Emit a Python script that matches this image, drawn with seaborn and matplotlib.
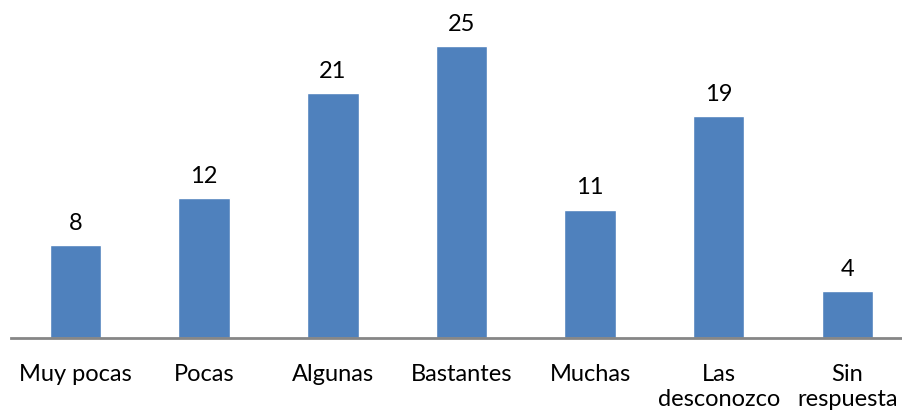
"""Bar chart of response counts, Excel-style."""

import matplotlib.pyplot as plt
import pandas as pd
import seaborn as sns

plt.switch_backend("Agg")

CATEGORIES = [
    "Muy pocas",
    "Pocas",
    "Algunas",
    "Bastantes",
    "Muchas",
    "Las\ndesconozco",
    "Sin\nrespuesta",
]
COUNTS = [8, 12, 21, 25, 11, 19, 4]

BAR_COLOR = "#4F81BD"
AXIS_COLOR = "#868686"

data = pd.DataFrame({"categoria": CATEGORIES, "n": COUNTS})

sns.set_theme(style="white")
plt.rcParams["font.family"] = ["Lato", "DejaVu Sans"]

fig = plt.figure(figsize=(9.02, 4.2), dpi=100)
ax = fig.add_axes([0.0124, 0.195, 0.9984, 0.779])

sns.barplot(data=data, x="categoria", y="n", color=BAR_COLOR,
            saturation=1, width=0.4, ax=ax)

ax.set_ylim(0, 28)
ax.set_xlabel("")
ax.set_ylabel("")
ax.set_yticks([])
for side in ("top", "left", "right"):
    ax.spines[side].set_visible(False)
ax.spines["bottom"].set_color(AXIS_COLOR)
ax.spines["bottom"].set_linewidth(2)
ax.tick_params(axis="x", length=0, pad=19, labelsize=17, colors="black")
for label in ax.get_xticklabels():
    label.set_linespacing(1.2)

for container in ax.containers:
    ax.bar_label(container, fmt="%d", padding=8, fontsize=17, color="black")

fig.savefig("out.png", dpi=100)
plt.close(fig)
